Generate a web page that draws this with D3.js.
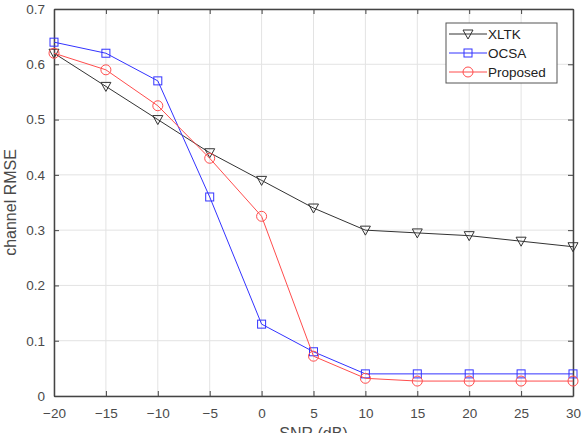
<!DOCTYPE html>
<html>
<head>
<meta charset="utf-8">
<script src="https://cdn.jsdelivr.net/npm/d3@7"></script>
<style>
  body { margin: 0; background: #fff; }
  svg { display: block; font-family: "Liberation Sans", Arial, sans-serif; }
</style>
</head>
<body>
<div id="chart"></div>
<script>
// SNR values (dB)
const snr = [-20, -15, -10, -5, 0, 5, 10, 15, 20, 25, 30];
const xltk = [0.62, 0.56, 0.50, 0.44, 0.39, 0.34, 0.30, 0.295, 0.29, 0.28, 0.27];
const ocsa = [0.64, 0.62, 0.57, 0.36, 0.13, 0.08, 0.04, 0.04, 0.04, 0.04, 0.04];
const proposed = [0.62, 0.59, 0.525, 0.43, 0.325, 0.072, 0.032, 0.027, 0.027, 0.027, 0.027];
const xTicks = [-20, -15, -10, -5, 0, 5, 10, 15, 20, 25, 30];
const yTicks = [0, 0.1, 0.2, 0.3, 0.4, 0.5, 0.6, 0.7];

const seriesList = [
    { name: "XLTK", values: xltk, color: "#333333", marker: "triangle" },
    { name: "OCSA", values: ocsa, color: "#3333ff", marker: "square" },
    { name: "Proposed", values: proposed, color: "#ff4d4d", marker: "circle" }
];

const width = 584, height = 433;
const margin = { top: 9, right: 11, bottom: 37, left: 54 };

const svg = d3.select("#chart").append("svg")
    .attr("width", width)
    .attr("height", height);

const xScale = d3.scaleLinear()
    .domain([-20, 30])
    .range([margin.left, width - margin.right]);

const yScale = d3.scaleLinear()
    .domain([0, 0.7])
    .range([height - margin.bottom, margin.top]);

const x0 = margin.left, x1 = width - margin.right;
const y0 = height - margin.bottom, y1 = margin.top;

// grid
svg.append("g")
    .selectAll("line.gx")
    .data(xTicks)
    .enter().append("line")
    .attr("x1", d => xScale(d)).attr("x2", d => xScale(d))
    .attr("y1", y1).attr("y2", y0)
    .attr("stroke", "#e3e3e3").attr("stroke-width", 1);

svg.append("g")
    .selectAll("line.gy")
    .data(yTicks)
    .enter().append("line")
    .attr("x1", x0).attr("x2", x1)
    .attr("y1", d => yScale(d)).attr("y2", d => yScale(d))
    .attr("stroke", "#e3e3e3").attr("stroke-width", 1);

// axes
const axisColor = "#444444";
const xAxis = svg.append("g")
    .attr("transform", "translate(0," + y0 + ")")
    .call(d3.axisBottom(xScale).tickValues(xTicks).tickSizeInner(-5).tickSizeOuter(0).tickPadding(12).tickFormat(d3.format("d")));
const xAxisTop = svg.append("g")
    .attr("transform", "translate(0," + y1 + ")")
    .call(d3.axisTop(xScale).tickValues(xTicks).tickSizeInner(-5).tickSizeOuter(0).tickFormat(""));
const yAxis = svg.append("g")
    .attr("transform", "translate(" + x0 + ",0)")
    .call(d3.axisLeft(yScale).tickValues(yTicks).tickSizeInner(-5).tickSizeOuter(0).tickPadding(9).tickFormat(d => d === 0 ? "0" : d3.format(".1f")(d)));
const yAxisRight = svg.append("g")
    .attr("transform", "translate(" + x1 + ",0)")
    .call(d3.axisRight(yScale).tickValues(yTicks).tickSizeInner(-5).tickSizeOuter(0).tickFormat(""));

[xAxis, xAxisTop, yAxis, yAxisRight].forEach(a => {
    a.select(".domain").attr("stroke", axisColor).attr("stroke-width", 1.5);
    a.selectAll(".tick line").attr("stroke", axisColor);
    a.selectAll(".tick text").attr("fill", "#4a4a4a").style("font-size", "13.5px")
        .style("font-family", "\"Liberation Sans\", Arial, sans-serif");
});

// axis labels
svg.append("text")
    .attr("x", (x0 + x1) / 2)
    .attr("y", 439)
    .attr("text-anchor", "middle")
    .attr("fill", "#4a4a4a")
    .style("font-size", "16px")
    .text("SNR (dB)");

svg.append("text")
    .attr("transform", "translate(16," + ((y0 + y1) / 2) + ") rotate(-90)")
    .attr("text-anchor", "middle")
    .attr("fill", "#4a4a4a")
    .style("font-size", "16px")
    .text("channel RMSE");

// lines + markers
function drawMarker(g, type, cx, cy, color) {
    if (type === "triangle") {
        g.append("path")
            .attr("d", `M${cx - 5},${cy - 4} L${cx + 5},${cy - 4} L${cx},${cy + 5} Z`)
            .attr("fill", "none").attr("stroke", color).attr("stroke-width", 1);
    } else if (type === "square") {
        g.append("rect")
            .attr("x", cx - 4).attr("y", cy - 4)
            .attr("width", 8).attr("height", 8)
            .attr("fill", "none").attr("stroke", color).attr("stroke-width", 1);
    } else {
        g.append("circle")
            .attr("cx", cx).attr("cy", cy).attr("r", 5)
            .attr("fill", "none").attr("stroke", color).attr("stroke-width", 1);
    }
}

const line = d3.line()
    .x(d => xScale(d[0]))
    .y(d => yScale(d[1]));

seriesList.forEach(s => {
    const pts = snr.map((x, i) => [x, s.values[i]]);
    const g = svg.append("g");
    g.append("path")
        .datum(pts)
        .attr("d", line)
        .attr("fill", "none")
        .attr("stroke", s.color)
        .attr("stroke-width", 1);
    pts.forEach(p => drawMarker(g, s.marker, xScale(p[0]), yScale(p[1]), s.color));
});

// legend
const lx = 446, ly = 23, lw = 111, lh = 60;
const legend = svg.append("g");
legend.append("rect")
    .attr("x", lx).attr("y", ly).attr("width", lw).attr("height", lh)
    .attr("fill", "#fff").attr("stroke", "#555").attr("stroke-width", 1);

seriesList.forEach((s, i) => {
    const cy = ly + 11 + i * 19;
    legend.append("line")
        .attr("x1", lx + 3).attr("x2", lx + 41)
        .attr("y1", cy).attr("y2", cy)
        .attr("stroke", s.color).attr("stroke-width", 1);
    drawMarker(legend, s.marker, lx + 22, cy, s.color);
    legend.append("text")
        .attr("x", lx + 42).attr("y", cy + 5)
        .attr("fill", "#222")
        .style("font-size", "13.5px")
        .text(s.name);
});
</script>
</body>
</html>
